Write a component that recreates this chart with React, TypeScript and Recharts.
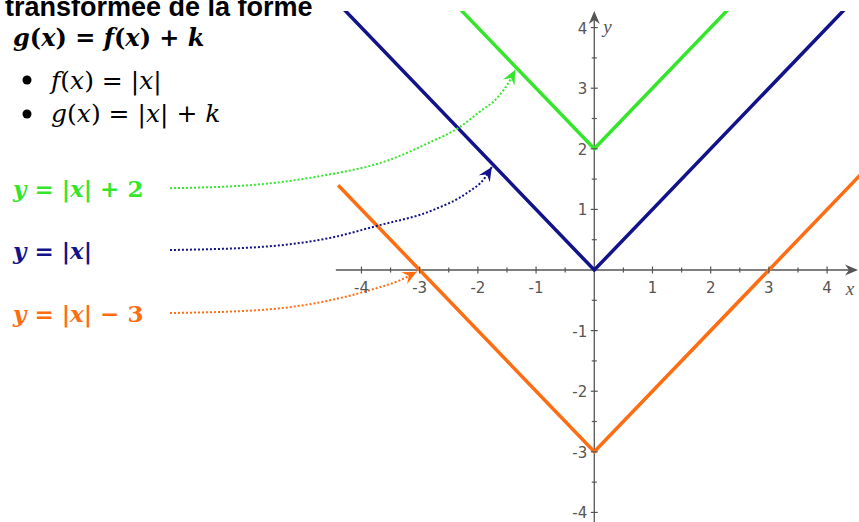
import { LineChart, Line, XAxis, YAxis, ReferenceLine, ReferenceDot } from "recharts"

// the three graphs (x, y pairs)
const absX = [-5, 0, 5]
const absY = [5, 0, 5]
const plus2X = [-3, 0, 3]
const plus2Y = [5, 2, 5]
const minus3X = [-4.4, 0, 5]
const minus3Y = [1.4, -3, 2]

// dotted callout curves from the labels to the graphs
const greenCurveX = [-7.29, -5.92, -4.71, -3.51, -2.82, -2.34, -1.97, -1.67, -1.45, -1.36]
const greenCurveY = [1.35, 1.4, 1.55, 1.82, 2.11, 2.34, 2.61, 2.84, 3.13, 3.3]
const blueCurveX = [-7.29, -5.74, -4.54, -3.73, -2.77, -2.19, -1.88, -1.76]
const blueCurveY = [0.33, 0.38, 0.53, 0.73, 0.99, 1.27, 1.52, 1.7]
const orangeCurveX = [-7.29, -5.74, -4.54, -3.85, -3.34, -3.05]
const orangeCurveY = [-0.71, -0.66, -0.5, -0.33, -0.17, -0.03]

// axes
const xMajor = [-4, -3, -2, -1, 1, 2, 3, 4]
const xMinor = [-3.5, -2.5, -1.5, -0.5, 0.5, 1.5, 2.5, 3.5]
const yMajor = [-4, -3, -2, -1, 1, 2, 3, 4]
const yMinor = [-3.5, -2.5, -1.5, -0.5, 0.5, 1.5, 2.5, 3.5]
const xDomain: [number, number] = [-10.21, 4.548]
const yDomain: [number, number] = [-4.158, 4.274]
const xAxisStart = -4.44

const GREEN = "#33e62a"
const NAVY = "#12128a"
const ORANGE = "#ff6d12"
const AXIS = "#555555"

const pairs = (xs: number[], ys: number[]) => xs.map((x, i) => ({ x, y: ys[i] }))

function arrowDot(color: string) {
  let last: { x: number; y: number } | null = null
  return (props: any) => {
    const { index, cx, cy, points } = props
    const n = points ? points.length : -1
    const prev = points && index > 0 ? points[index - 1] : last
    last = { x: cx, y: cy }
    const isLast = points ? index === n - 1 : index === props.dataLength - 1
    if (!isLast || !prev) return <g key={`d-${index}`} />
    const ang = (Math.atan2(cy - prev.y, cx - prev.x) * 180) / Math.PI
    return (
      <path
        key={`d-${index}`}
        transform={`translate(${cx},${cy}) rotate(${ang})`}
        d="M0,0 L-14,-6.5 L-9,0 L-14,6.5 Z"
        fill={color}
      />
    )
  }
}

const tickX = (label: string | null, len: number) => (p: any) => (
  <g>
    <line x1={p.cx} x2={p.cx} y1={p.cy - len} y2={p.cy + len} stroke={AXIS} strokeWidth={1.2} />
    {label && (
      <text x={p.cx} y={p.cy + 23} textAnchor="middle" fontFamily="DejaVu Sans" fontSize={15} fill={AXIS}>
        {label}
      </text>
    )}
  </g>
)

const tickY = (label: string | null, len: number) => (p: any) => (
  <g>
    <line x1={p.cx - len} x2={p.cx + len} y1={p.cy} y2={p.cy} stroke={AXIS} strokeWidth={1.2} />
    {label && (
      <text x={p.cx - 7} y={p.cy + 6} textAnchor="end" fontFamily="DejaVu Sans" fontSize={15} fill={AXIS}>
        {label}
      </text>
    )}
  </g>
)

const mathFont = "DejaVu Serif"

export default function App() {
  const curves = [
    { data: pairs(greenCurveX, greenCurveY), color: GREEN },
    { data: pairs(blueCurveX, blueCurveY), color: NAVY },
    { data: pairs(orangeCurveX, orangeCurveY), color: ORANGE },
  ]

  return (
    <div style={{ position: "absolute", left: 0, top: 0, width: 859, height: 522, background: "#fff" }}>
      <LineChart width={859} height={522} margin={{ top: 11, right: 0, bottom: 0, left: 0 }}>
        <XAxis type="number" dataKey="x" domain={xDomain} allowDataOverflow hide />
        <YAxis type="number" dataKey="y" domain={yDomain} allowDataOverflow hide />

        <ReferenceLine
          segment={[{ x: xAxisStart, y: 0 }, { x: xDomain[1] - 0.1, y: 0 }]}
          stroke={AXIS}
          strokeWidth={1.3}
          ifOverflow="visible"
        />
        <ReferenceLine
          segment={[{ x: 0, y: yDomain[0] }, { x: 0, y: yDomain[1] - 0.1 }]}
          stroke={AXIS}
          strokeWidth={1.3}
          ifOverflow="visible"
        />
        {xMajor.map((t) => (
          <ReferenceDot key={`xM${t}`} x={t} y={0} r={0} ifOverflow="visible" shape={tickX(String(t), 3.5)} />
        ))}
        {xMinor.map((t) => (
          <ReferenceDot key={`xm${t}`} x={t} y={0} r={0} ifOverflow="visible" shape={tickX(null, 2.5)} />
        ))}
        {yMajor.map((t) => (
          <ReferenceDot key={`yM${t}`} x={0} y={t} r={0} ifOverflow="visible" shape={tickY(String(t), 3.5)} />
        ))}
        {yMinor.map((t) => (
          <ReferenceDot key={`ym${t}`} x={0} y={t} r={0} ifOverflow="visible" shape={tickY(null, 2.5)} />
        ))}
        <ReferenceDot
          x={xDomain[1]}
          y={0}
          r={0}
          ifOverflow="visible"
          shape={(p: any) => (
            <g>
              <path
                transform={`translate(${p.cx - 1},${p.cy})`}
                d="M0,0 L-13,-5.5 L-9,0 L-13,5.5 Z"
                fill={AXIS}
              />
              <text x={p.cx - 9} y={p.cy + 25} textAnchor="middle" fontFamily="Liberation Serif" fontStyle="italic" fontSize={19} fill={AXIS}>
                x
              </text>
            </g>
          )}
        />
        <ReferenceDot
          x={0}
          y={yDomain[1]}
          r={0}
          ifOverflow="visible"
          shape={(p: any) => (
            <g>
              <path
                transform={`translate(${p.cx},${p.cy}) rotate(-90)`}
                d="M0,0 L-13,-5.5 L-9,0 L-13,5.5 Z"
                fill={AXIS}
              />
              <text x={p.cx + 9} y={p.cy + 22} fontFamily="Liberation Serif" fontStyle="italic" fontSize={19} fill={AXIS}>
                y
              </text>
            </g>
          )}
        />

        <Line data={pairs(absX, absY)} dataKey="y" stroke={NAVY} strokeWidth={3.5} dot={false} activeDot={false} isAnimationActive={false} />
        <Line data={pairs(plus2X, plus2Y)} dataKey="y" stroke={GREEN} strokeWidth={3.5} dot={false} activeDot={false} isAnimationActive={false} />
        <Line data={pairs(minus3X, minus3Y)} dataKey="y" stroke={ORANGE} strokeWidth={3.5} dot={false} activeDot={false} isAnimationActive={false} />

        {curves.map((c, i) => (
          <Line
            key={`c${i}`}
            type="monotone"
            data={c.data}
            dataKey="y"
            stroke={c.color}
            strokeWidth={2}
            strokeDasharray="2 2"
            dot={arrowDot(c.color)}
            activeDot={false}
            isAnimationActive={false}
          />
        ))}
      </LineChart>

      <svg width={859} height={522} style={{ position: "absolute", left: 0, top: 0, pointerEvents: "none" }}>
        <text x={5} y={16} fontFamily="Liberation Sans" fontWeight="bold" fontSize={27} fill="#000">
          transformée de la forme
        </text>
        <text x={13} y={46} fontFamily={mathFont} fontWeight="bold" fontSize={24} fill="#000">
          <tspan fontStyle="italic">g</tspan>(<tspan fontStyle="italic">x</tspan>) = <tspan fontStyle="italic">f</tspan>(
          <tspan fontStyle="italic">x</tspan>) + <tspan fontStyle="italic">k</tspan>
        </text>
        <circle cx={27} cy={80} r={4.5} fill="#000" />
        <text x={51} y={89} fontFamily={mathFont} fontSize={25} fill="#000">
          <tspan fontStyle="italic">f</tspan>(<tspan fontStyle="italic">x</tspan>) = |<tspan fontStyle="italic">x</tspan>|
        </text>
        <circle cx={27} cy={114} r={4.5} fill="#000" />
        <text x={51} y={122} fontFamily={mathFont} fontSize={25} fill="#000">
          <tspan fontStyle="italic">g</tspan>(<tspan fontStyle="italic">x</tspan>) = |<tspan fontStyle="italic">x</tspan>| + <tspan fontStyle="italic">k</tspan>
        </text>

        <text x={13} y={197} fontFamily={mathFont} fontWeight="bold" fontSize={23} fill={GREEN}>
          <tspan fontStyle="italic">y</tspan> = |<tspan fontStyle="italic">x</tspan>| + 2
        </text>
        <text x={13} y={259} fontFamily={mathFont} fontWeight="bold" fontSize={23} fill={NAVY}>
          <tspan fontStyle="italic">y</tspan> = |<tspan fontStyle="italic">x</tspan>|
        </text>
        <text x={13} y={322} fontFamily={mathFont} fontWeight="bold" fontSize={23} fill={ORANGE}>
          <tspan fontStyle="italic">y</tspan> = |<tspan fontStyle="italic">x</tspan>| − 3
        </text>
      </svg>
    </div>
  )
}
